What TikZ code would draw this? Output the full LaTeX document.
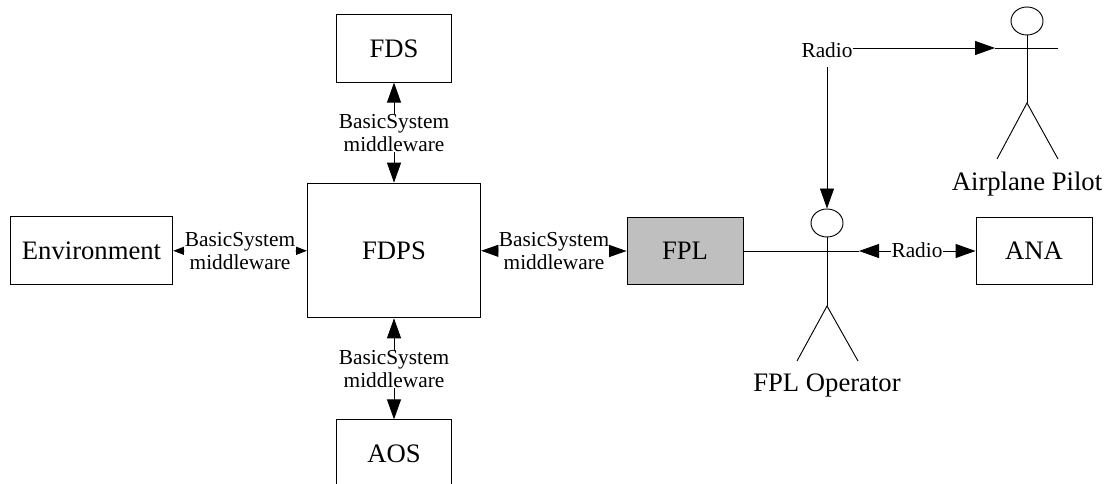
\documentclass[tikz,border=0pt]{standalone}
\usepackage{fontspec}
\setmainfont{Liberation Serif}
\usetikzlibrary{arrows.meta, shapes.geometric}

\begin{document}
\begin{tikzpicture}[x=0.75pt, y=-0.75pt, line width=0.7pt,
	block/.style = {shape=rectangle, draw, align=center, fill=white, font=\fontsize{20}{24}\selectfont, minimum height=50.5pt},
	selected/.style = {block, fill=gray!50},
	link/.style = {shape=rectangle, align=center, inner sep=0pt, font=\fontsize{16}{17.5}\selectfont},
	caption/.style = {font=\fontsize{20}{24}\selectfont, inner sep=0pt},
	head/.style = {shape=ellipse, draw, inner sep=0pt, minimum width=24pt, minimum height=21pt},
	bigtip/.style = {-{Triangle[length=15pt, width=10.5pt]}},
	midtip/.style = {-{Triangle[length=13pt, width=9pt]}},
	smalltip/.style = {-{Triangle[length=8pt, width=6pt]}}]
	\useasboundingbox (0,0) rectangle (1105,484);
	% boxes
	\node[block, minimum width=122pt] (env) at (91.5,250.5) {Environment};
	\node[block, minimum width=130pt, minimum height=101pt] (fdps) at (394,250.5) {FDPS};
	\node[block, minimum width=86pt] (fds) at (394,48.5) {FDS};
	\node[block, minimum width=86pt] (aos) at (394,453.5) {AOS};
	\node[selected, minimum width=87pt] (fpl) at (685,251) {FPL};
	\node[block, minimum width=87pt] (ana) at (1034,251) {ANA};
	% middleware labels
	\node[link] (mwenv) at (240,251) {BasicSystem\\middleware};
	\node[link] (mwfds) at (394,133) {BasicSystem\\middleware};
	\node[link] (mwaos) at (394,369) {BasicSystem\\middleware};
	\node[link] (mwfpl) at (554,251) {BasicSystem\\middleware};
	\draw[smalltip] (mwenv) -- (env);
	\draw[smalltip] (mwenv) -- (fdps);
	\draw[bigtip] (mwfds) -- (fds);
	\draw[bigtip] (mwfds) -- (fdps);
	\draw[bigtip] (mwaos) -- (fdps);
	\draw[bigtip] (mwaos) -- (aos);
	\draw[midtip] (mwfpl) -- (fdps);
	\draw[midtip] (mwfpl) -- (fpl);
	% airplane pilot
	\node[head] (pilothead) at (1027,21) {};
	\coordinate (pilotleft) at (995,48);
	\coordinate (pilotright) at (1058,48);
	\coordinate (pilothip) at (1027,103);
	\coordinate (pilotfootl) at (997,159);
	\coordinate (pilotfootr) at (1058,159);
	\draw (pilotleft) -- (pilotright);
	\draw (pilothead) -- (pilothip);
	\draw (pilotfootl) -- (pilothip) -- (pilotfootr);
	\node[caption] (pilotname) at (1027,184) {Airplane Pilot};
	% fpl operator
	\node[head] (ophead) at (827,223) {};
	\coordinate (opright) at (859,251);
	\coordinate (ophip) at (827,306);
	\coordinate (opfootl) at (797,361);
	\coordinate (opfootr) at (858,361);
	\draw (fpl) -- (opright);
	\draw (ophead) -- (ophip);
	\draw (opfootl) -- (ophip) -- (opfootr);
	\node[caption] (opname) at (827,386) {FPL Operator};
	% radio
	\node[link] (radiotop) at (827,50) {Radio};
	\node[link] (radioana) at (917,250) {Radio};
	\draw[bigtip] (radiotop.east |- pilotleft) -- (pilotleft);
	\draw[bigtip, shorten <=7pt] (radiotop) -- (ophead);
	\draw[bigtip] (radioana.west |- opright) -- (opright);
	\draw[bigtip] (radioana.east |- ana) -- (ana);
\end{tikzpicture}
\end{document}
